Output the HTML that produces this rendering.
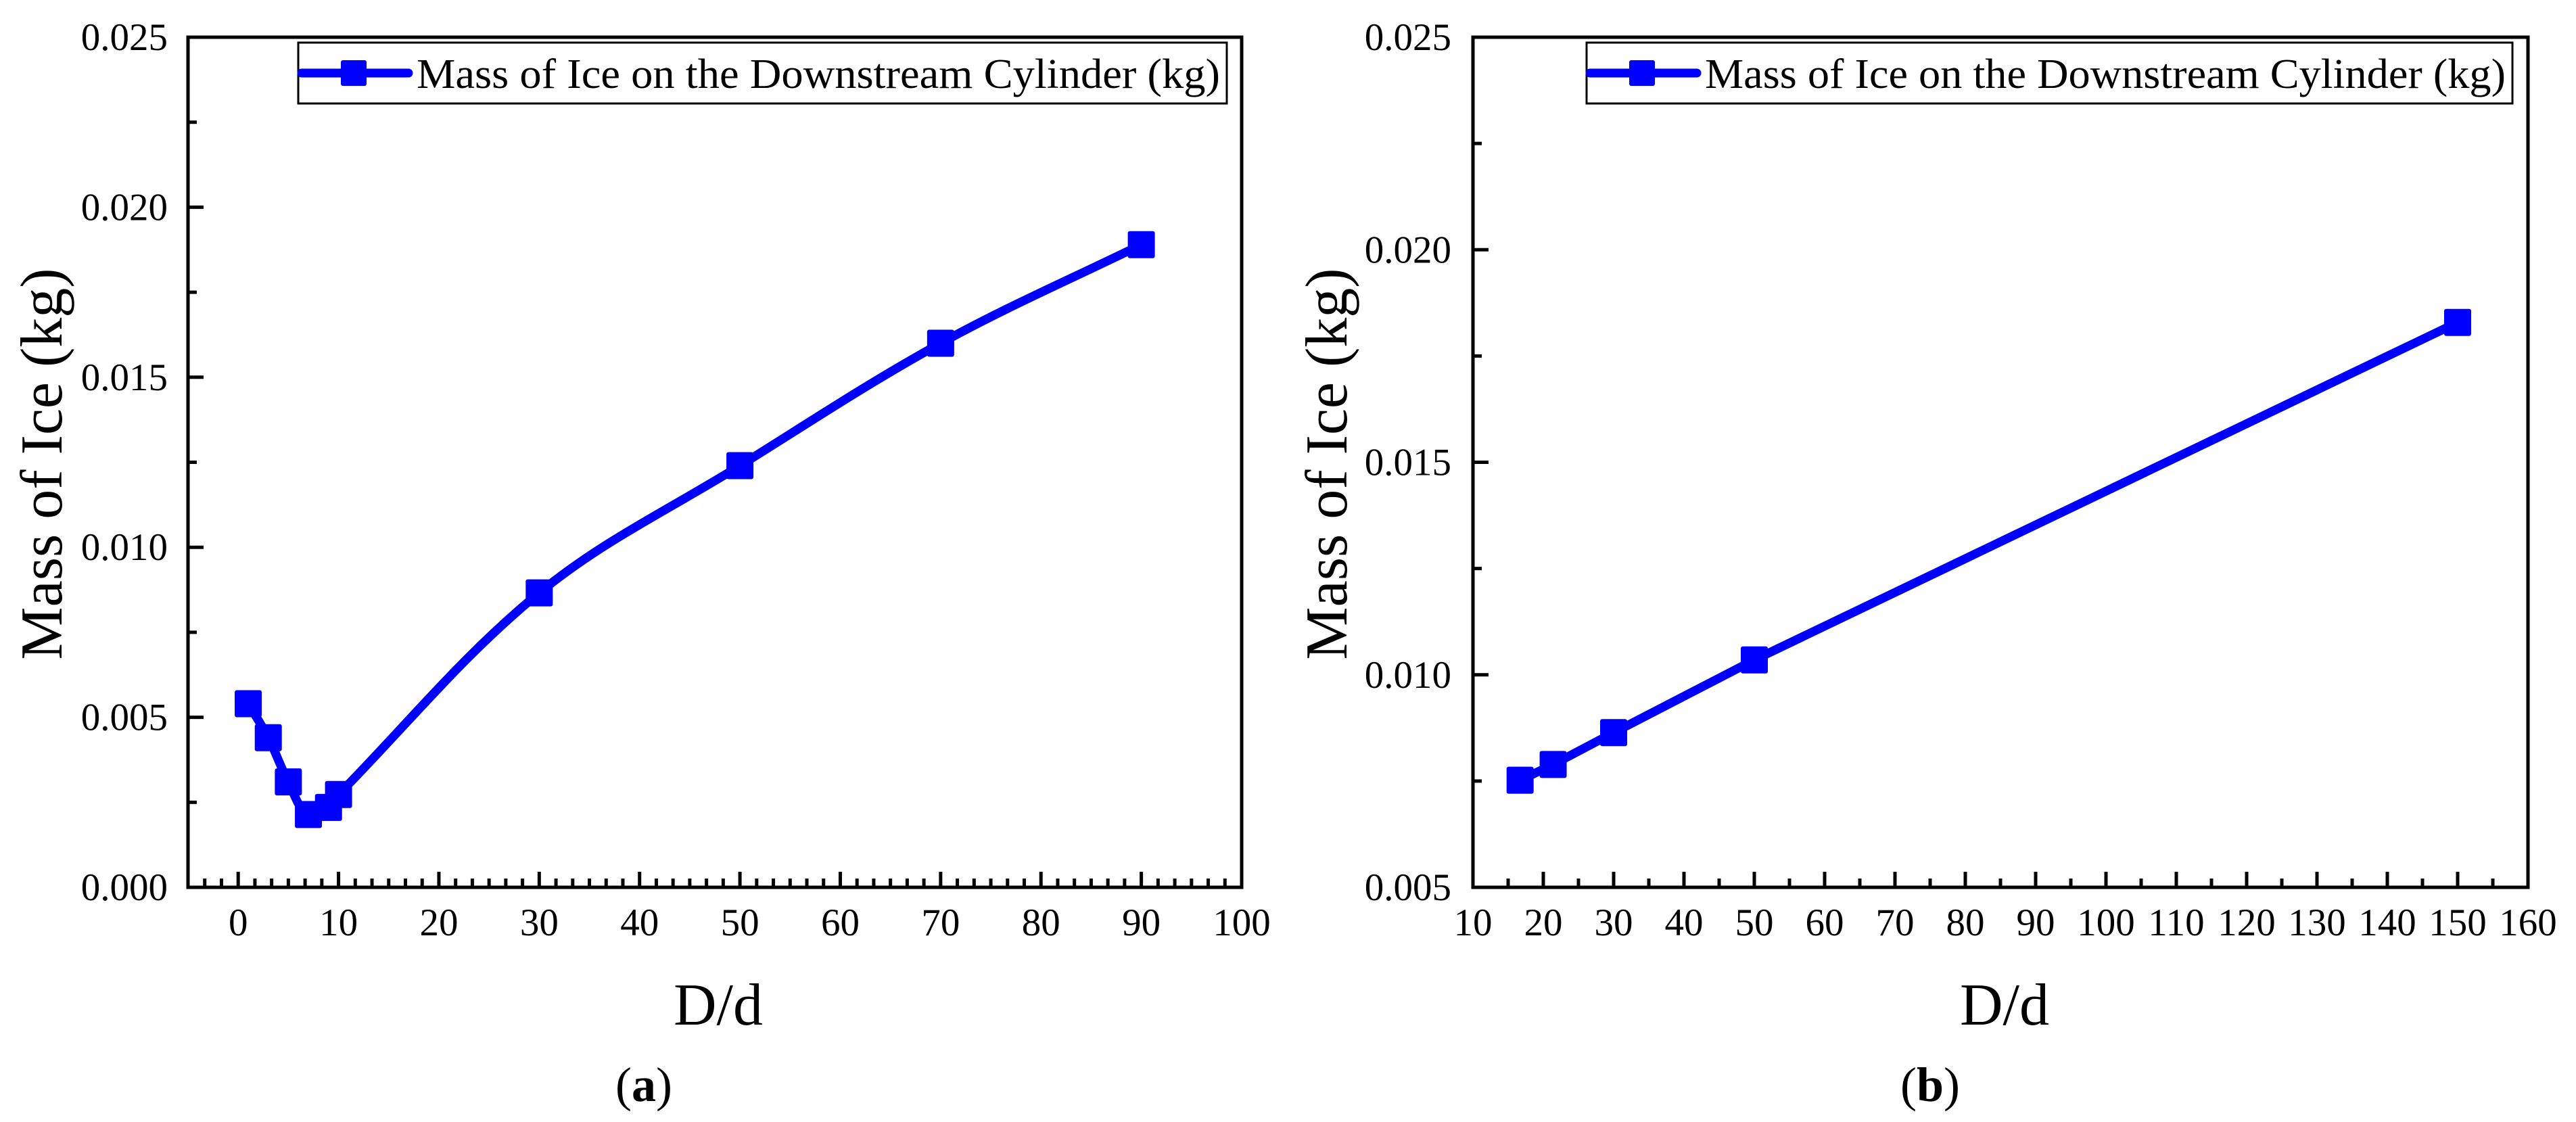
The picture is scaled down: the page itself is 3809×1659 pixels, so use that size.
<!DOCTYPE html>
<html><head><meta charset="utf-8"><style>
html,body{margin:0;padding:0;background:#fff}
svg{display:block}
text{font-family:"Liberation Serif",serif;fill:#000}
</style></head><body>
<svg id="fig" width="3809" height="1659" viewBox="0 0 3809 1659" xmlns="http://www.w3.org/2000/svg">
<g id="pa"></g>
<g id="pb"></g>
</svg>
<script>
// Panel (a) data
const aX = [1, 3, 5, 7, 9, 10, 30, 50, 70, 90];
const aY = [0.0054, 0.0044, 0.0031, 0.00214, 0.00235, 0.00273, 0.00866, 0.0124, 0.0160, 0.0189];
const aXTicks = [0, 10, 20, 30, 40, 50, 60, 70, 80, 90, 100];
const aYTicks = [0, 0.005, 0.010, 0.015, 0.020, 0.025];
// Panel (b) data
const bX = [16.7, 21.4, 30, 50, 150];
const bY = [0.00752, 0.00789, 0.00864, 0.01035, 0.01829];
const bXTicks = [10, 20, 30, 40, 50, 60, 70, 80, 90, 100, 110, 120, 130, 140, 150, 160];
const bYTicks = [0.005, 0.010, 0.015, 0.020, 0.025];

const NS = "http://www.w3.org/2000/svg";
function mk(parent, tag, attrs, txt) {
  const e = document.createElementNS(NS, tag);
  for (const k in attrs) e.setAttribute(k, attrs[k]);
  if (txt !== undefined) e.textContent = txt;
  parent.appendChild(e);
  return e;
}
function smoothPath(pts) {
  let d = "M" + pts[0][0] + "," + pts[0][1];
  for (let i = 0; i < pts.length - 1; i++) {
    const p0 = pts[Math.max(0, i - 1)], p1 = pts[i], p2 = pts[i + 1], p3 = pts[Math.min(pts.length - 1, i + 2)];
    const seg = Math.hypot(p2[0] - p1[0], p2[1] - p1[1]);
    const d1 = Math.hypot(p2[0] - p0[0], p2[1] - p0[1]) || 1;
    const d2 = Math.hypot(p3[0] - p1[0], p3[1] - p1[1]) || 1;
    const k = 0.35;
    const c1 = [p1[0] + (p2[0] - p0[0]) / d1 * seg * k, p1[1] + (p2[1] - p0[1]) / d1 * seg * k];
    const c2 = [p2[0] - (p3[0] - p1[0]) / d2 * seg * k, p2[1] - (p3[1] - p1[1]) / d2 * seg * k];
    d += " C" + c1[0] + "," + c1[1] + " " + c2[0] + "," + c2[1] + " " + p2[0] + "," + p2[1];
  }
  return d;
}
function panel(g, cfg) {
  const L = cfg.left, R = cfg.right, T = 55, B = 1312;
  const sx = v => L + (v - cfg.xmin) / (cfg.xmax - cfg.xmin) * (R - L);
  const sy = v => B - (v - cfg.ymin) / (cfg.ymax - cfg.ymin) * (B - T);
  const xt = cfg.xticks;
  const step = xt[1] - xt[0];
  const mstep = step / cfg.xminor;
  for (let v = xt[0] - step; v <= cfg.xmax + 1e-9; v += mstep) {
    if (v < cfg.xmin - 1e-9) continue;
    const isMajor = Math.abs(((v - xt[0]) / step) - Math.round((v - xt[0]) / step)) < 1e-6;
    if (Math.abs(v - cfg.xmin) < 1e-6 || Math.abs(v - cfg.xmax) < 1e-6) continue;
    const t = mk(g, "line", {x1: sx(v), x2: sx(v), y1: B, y2: B - (isMajor ? 23 : 13), stroke: "#000", "stroke-width": 5});
    
    
  }
  xt.forEach(v => {
    const t = mk(g, "text", {x: sx(v), y: 1383, "font-size": 57, "text-anchor": "middle"}, String(v));
    
    
  });
  const yt = cfg.yticks;
  const ys = yt[1] - yt[0];
  for (let i = 0; i < yt.length; i++) {
    const v = yt[i];
    if (i > 0 && i < yt.length - 1) {
      const t = mk(g, "line", {x1: L, x2: L + 23, y1: sy(v), y2: sy(v), stroke: "#000", "stroke-width": 5});
      
      
    }
    if (i < yt.length - 1) {
      const m = mk(g, "line", {x1: L, x2: L + 13, y1: sy(v + ys / 2), y2: sy(v + ys / 2), stroke: "#000", "stroke-width": 5});
      
      
    }
    const lb = mk(g, "text", {x: cfg.ylabRight, y: sy(v) + 19, "font-size": 57, "text-anchor": "end"}, v.toFixed(3));
    
    
  }
  const fr = mk(g, "rect", {x: L, y: T, width: R - L, height: B - T, fill: "none", stroke: "#000", "stroke-width": 5});
  
  
  const pts = cfg.xs.map((x, i) => [sx(x), sy(cfg.ys[i])]);
  const path = mk(g, "path", {d: cfg.smooth ? smoothPath(pts) : "M" + pts.map(p => p.join(",")).join(" L"), fill: "none", stroke: "#0000ff", "stroke-width": 13, "stroke-linejoin": "round", "stroke-linecap": "round"});
  
  
  pts.forEach(p => {
    const r = mk(g, "rect", {x: p[0] - 20, y: p[1] - 20, width: 40, height: 40, rx: 3, fill: "#0000ff"});
    
    
  });
  const lg = mk(g, "g", {});
  
  
  const lb = mk(lg, "rect", {x: cfg.legL, y: 63, width: cfg.legR - cfg.legL, height: 90, fill: "#fff", stroke: "#000", "stroke-width": 3});
  
  
  const ll = mk(lg, "line", {x1: cfg.legL + 5, x2: cfg.legL + 163, y1: 108, y2: 108, stroke: "#0000ff", "stroke-width": 13, "stroke-linecap": "round"});
  
  
  const lm = mk(lg, "rect", {x: cfg.legL + 63, y: 89, width: 38, height: 38, rx: 3, fill: "#0000ff"});
  
  
  const lt = mk(lg, "text", {x: cfg.legL + 175, y: 130, "font-size": 62, textLength: cfg.legR - cfg.legL - 185, lengthAdjust: "spacingAndGlyphs"}, "Mass of Ice on the Downstream Cylinder (kg)");
  
  
  const yt2 = mk(g, "text", {x: 0, y: 0, "font-size": 88, "text-anchor": "middle", transform: "translate(" + (cfg.left - 187) + ",686) rotate(-90)"}, "Mass of Ice (kg)");
  
  
  const xt2 = mk(g, "text", {x: cfg.xtitleX, y: 1515, "font-size": 88, "text-anchor": "middle"}, "D/d");
  
  
  const cap = mk(g, "text", {x: cfg.capX, y: 1628, "font-size": 72, "text-anchor": "middle"});
  
  
  mk(cap, "tspan", {}, "(");
  mk(cap, "tspan", {"font-weight": "bold"}, cfg.cap);
  mk(cap, "tspan", {}, ")");
}
panel(document.getElementById("pa"), {left: 278, right: 1836, xmin: -5, xmax: 100, ymin: 0, ymax: 0.025,
  xticks: aXTicks, xminor: 6, yticks: aYTicks, xs: aX, ys: aY, smooth: true, ylabRight: 248,
  legL: 441, legR: 1814, xtitleX: 1062, capX: 952, cap: "a"});
panel(document.getElementById("pb"), {left: 2178, right: 3738, xmin: 10, xmax: 160, ymin: 0.005, ymax: 0.025,
  xticks: bXTicks, xminor: 2, yticks: bYTicks, xs: bX, ys: bY, smooth: false, ylabRight: 2146,
  legL: 2346, legR: 3715, xtitleX: 2964, capX: 2854, cap: "b"});
</script>
</body></html>
